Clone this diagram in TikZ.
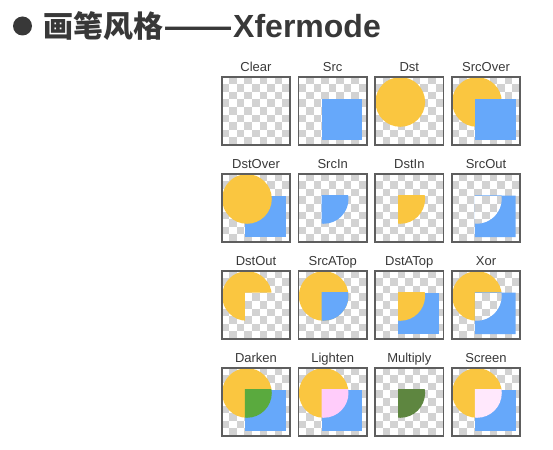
\documentclass[tikz,border=0pt]{standalone}
\usepackage{fontspec}
\setmainfont{Liberation Sans}
\newfontfamily\cjk{Noto Sans CJK SC}
\usetikzlibrary{positioning}

\definecolor{dstyellow}{HTML}{FAC640}
\definecolor{srcblue}{HTML}{66A8FA}
\definecolor{darkmix}{HTML}{5AAA3E}
\definecolor{lightmix}{HTML}{FFCCFA}
\definecolor{multmix}{HTML}{5E8640}
\definecolor{screenmix}{HTML}{FFE8FC}
\definecolor{checkgray}{HTML}{D2D2D2}
\definecolor{framegray}{HTML}{5E5E5E}
\definecolor{textgray}{HTML}{383838}

% tile-local paths (unit square, y down)
\newcommand{\dstcirc}{(0.37,0.37) circle (0.365)}
\newcommand{\srcrect}{(0.34,0.32) rectangle (0.94,0.93)}
\newcommand{\notsrc}{(0,0) -| (1,0.32) -| (0.34,1) -| cycle}

% transparent background
\newcommand{\checker}{%
  \fill[white] (0,0) rectangle (1,1);
  \foreach \i in {0,...,8}{\foreach \j in {0,...,8}{%
    \pgfmathtruncatemacro{\k}{mod(\i+\j,2)}%
    \ifnum\k=1 \fill[checkgray] (\i/9,\j/9) rectangle ++(1/9,1/9);\fi}}}

% one mode: name, label, centre, drawing
\newcommand{\xtile}[4]{%
  \node[tile] (#1) at #3 {};
  \node[lbl, above=5pt of #1, anchor=base] (#1-lbl) {#2};
  \begin{scope}[shift={(#1.north west)}, x=68pt, y=-68pt]
    \clip (0,0) rectangle (1,1);
    \checker
    #4
  \end{scope}
  \draw[frame] (#1.north west) rectangle (#1.south east);
}

\begin{document}
\begin{tikzpicture}[
    x=1pt, y=1pt,
    % Styles
    tile/.style={% the square of one mode
        rectangle,
        inner sep=0pt,
        minimum size=68pt,
        },
    frame/.style={% border round a square
        draw=framegray,
        line width=1.6pt,
        },
    lbl/.style={% mode names
        font=\fontsize{13}{15}\selectfont,
        text=textgray,
        inner sep=0pt,
        },
    dstfill/.style={fill=dstyellow},
    srcfill/.style={fill=srcblue},
    ]

\useasboundingbox (0,0) rectangle (553,-449);

% Title
\node[circle, fill=textgray, minimum size=19pt, inner sep=0pt] (bullet) at (22.5,-26) {};
\node[anchor=base west, inner sep=0pt, text=textgray,
      font=\fontsize{30}{36}\selectfont\bfseries] (title) at (43,-37.5)
      {{\cjk 画笔风格\scalebox{1.36}[1]{——}}\fontsize{32}{36}\selectfont Xfermode};

% Row 1
\xtile{clear}{Clear}{(256,-111)}{}
\xtile{src}{Src}{(332.7,-111)}{\fill[srcfill] \srcrect;}
\xtile{dst}{Dst}{(409.3,-111)}{\fill[dstfill] \dstcirc;}
\xtile{srcover}{SrcOver}{(486,-111)}{%
  \fill[dstfill] \dstcirc;
  \fill[srcfill] \srcrect;}

% Row 2
\xtile{dstover}{DstOver}{(256,-208)}{%
  \fill[srcfill] \srcrect;
  \fill[dstfill] \dstcirc;}
\xtile{srcin}{SrcIn}{(332.7,-208)}{%
  \clip \srcrect;
  \fill[srcfill] \dstcirc;}
\xtile{dstin}{DstIn}{(409.3,-208)}{%
  \clip \srcrect;
  \fill[dstfill] \dstcirc;}
\xtile{srcout}{SrcOut}{(486,-208)}{%
  \clip \srcrect;
  \fill[srcfill, even odd rule] \srcrect \dstcirc;}

% Row 3
\xtile{dstout}{DstOut}{(256,-305)}{%
  \clip \notsrc;
  \fill[dstfill] \dstcirc;}
\xtile{srcatop}{SrcATop}{(332.7,-305)}{%
  \fill[dstfill] \dstcirc;
  \clip \srcrect;
  \fill[srcfill] \dstcirc;}
\xtile{dstatop}{DstATop}{(409.3,-305)}{%
  \fill[srcfill] \srcrect;
  \clip \srcrect;
  \fill[dstfill] \dstcirc;}
\xtile{xor}{Xor}{(486,-305)}{%
  \begin{scope}
    \clip \notsrc;
    \fill[dstfill] \dstcirc;
  \end{scope}
  \clip \srcrect;
  \fill[srcfill, even odd rule] \srcrect \dstcirc;}

% Row 4
\xtile{darken}{Darken}{(256,-402)}{%
  \fill[dstfill] \dstcirc;
  \fill[srcfill] \srcrect;
  \clip \srcrect;
  \fill[darkmix] \dstcirc;}
\xtile{lighten}{Lighten}{(332.7,-402)}{%
  \fill[dstfill] \dstcirc;
  \fill[srcfill] \srcrect;
  \clip \srcrect;
  \fill[lightmix] \dstcirc;}
\xtile{multiply}{Multiply}{(409.3,-402)}{%
  \clip \srcrect;
  \fill[multmix] \dstcirc;}
\xtile{screen}{Screen}{(486,-402)}{%
  \fill[dstfill] \dstcirc;
  \fill[srcfill] \srcrect;
  \clip \srcrect;
  \fill[screenmix] \dstcirc;}

\end{tikzpicture}
\end{document}
